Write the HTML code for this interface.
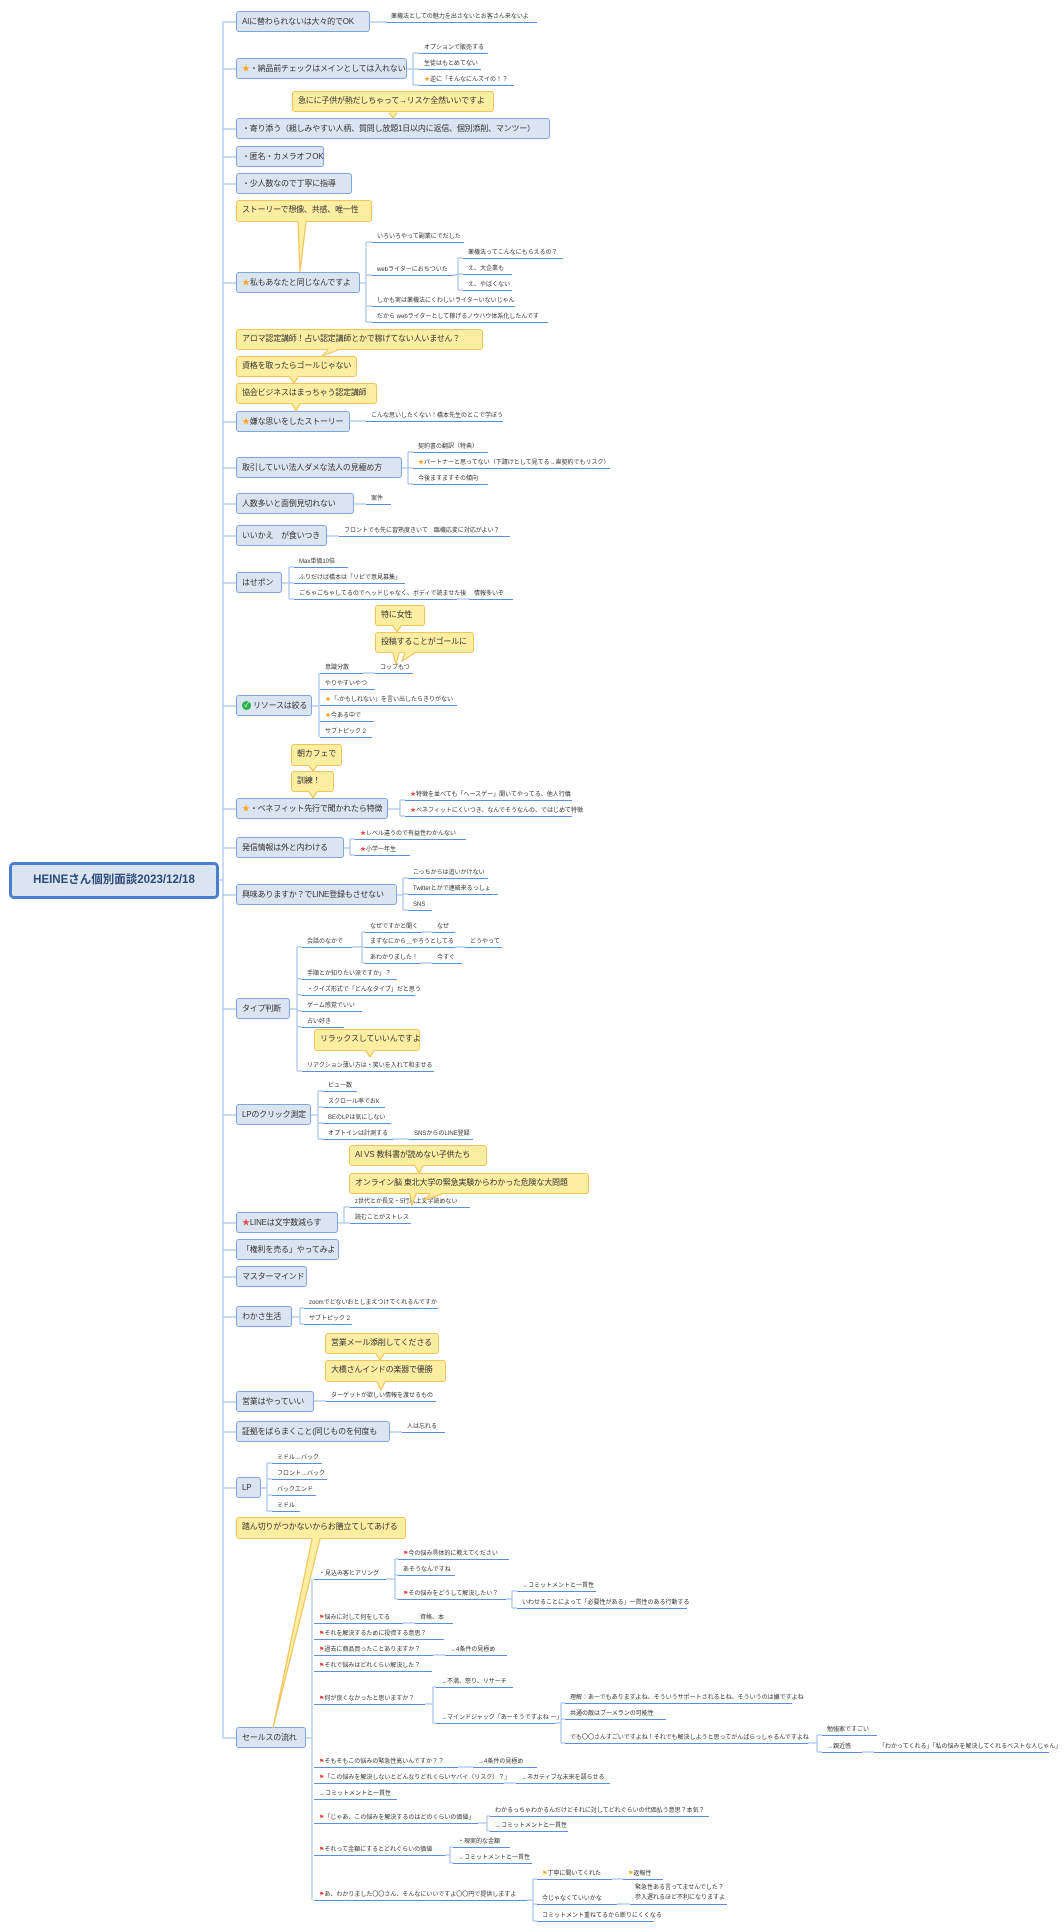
<!DOCTYPE html>
<html><head><meta charset="utf-8">
<style>
body{margin:0;width:1064px;height:1929px;background:#fff;position:relative;overflow:hidden;font-family:"Liberation Sans","Noto Sans CJK JP",sans-serif;color:#333}
.m{position:absolute;left:236px;height:21px;line-height:19px;background:#dbe5f1;border:1.5px solid #7ea6de;border-radius:3px;font-size:8px;padding:0 5px;box-sizing:border-box;white-space:nowrap;z-index:1;letter-spacing:-0.2px}
.c{position:absolute;height:21px;line-height:18px;background:#fdeea2;border:1.5px solid #f2c45a;border-radius:3px;font-size:8px;padding:0 5px;box-sizing:border-box;white-space:nowrap;z-index:1;letter-spacing:-0.2px}
.l{position:absolute;height:10px;line-height:10px;font-size:6px;border-bottom:1.5px solid #5a8fdc;padding-left:5px;white-space:nowrap;overflow:visible;z-index:1}
.s{color:#f5a623}.r{color:#e84a4a}.f{color:#e04040;font-family:"DejaVu Sans",sans-serif}.fy{color:#f5b000;font-family:"DejaVu Sans",sans-serif}
.g{display:inline-block;width:9px;height:9px;border-radius:50%;background:#2bb24c;color:#fff;font-size:7px;line-height:9px;text-align:center;vertical-align:middle;margin-right:2px}
svg{position:absolute;left:0;top:0}
</style></head><body>
<svg width="1064" height="1929" style="z-index:0"><g fill="none" stroke="#a9c4ea" stroke-width="1.2">
<path d="M223 22V1738 M219 880H223 M223 22H236 M223 69H236 M223 129H236 M223 157H236 M223 184H236 M223 283H236 M223 422H236 M223 468H236 M223 504H236 M223 536H236 M223 583H236 M223 706H236 M223 809H236 M223 848H236 M223 895H236 M223 1009H236 M223 1115H236 M223 1223H236 M223 1250H236 M223 1277H236 M223 1317H236 M223 1402H236 M223 1432H236 M223 1488H236 M223 1738H236"/>
<path d="M370 22H386 M407 69H413 M413 53V85 M413 53H419 M413 69H419 M413 85H419
M360 283H366 M366 242V322 M366 242H372 M366 275H372 M366 306H372 M366 322H372 M453 275H458 M458 258V290 M458 258H463 M458 274H463 M458 290H463
M350 421H366 M402 468H408 M408 452V484 M408 452H413 M408 468H413 M408 484H413 M354 504H366 M327 536H339
M282 583H289 M289 567V599 M289 567H294 M289 583H294 M289 599H294 M457 599H469
M312 706H319 M319 673V737 M363 673H375
M388 809H400 M400 800V816 M400 800H405 M400 816H405
M344 848H350 M350 839V855 M350 839H355 M350 855H355
M397 895H403 M403 878V910 M403 878H408 M403 894H408 M403 910H408
M290 1009H297 M297 947V1071 M297 947H302 M297 979H302 M297 995H302 M297 1011H302 M297 1027H302 M297 1071H302
M352 947H362 M362 932V963 M362 932H365 M362 947H365 M362 963H365 M422 932H432 M455 947H465 M420 963H432
M311 1115H318 M318 1091V1139 M318 1091H323 M318 1107H323 M318 1123H323 M318 1139H323 M393 1139H409
M338 1223H344 M344 1207V1223 M344 1207H350 M344 1223H350
M292 1317H300 M300 1308V1324 M300 1308H304 M300 1324H304
M314 1401H326 M390 1432H402
M261 1488H267 M267 1463V1511 M267 1463H272 M267 1479H272 M267 1495H272 M267 1511H272
M306 1738H312 M312 1579V1900
M386 1579H395 M395 1559V1599 M395 1559H398 M395 1575H398 M395 1599H398 M506 1599H512 M512 1591V1608 M512 1591H517 M512 1608H517
M403 1623H415 M433 1655H445
M425 1704H433 M433 1687V1723 M433 1687H436 M433 1723H436 M555 1723H561 M561 1703V1743 M561 1703H565 M561 1719H565 M561 1743H565 M808 1743H817 M817 1735V1752 M817 1735H822 M817 1752H822 M862 1752H874
M458 1767H473 M504 1783H516
M478 1823H487 M487 1816V1831 M487 1816H490 M487 1831H490
M445 1855H450 M450 1847V1863 M450 1847H453 M450 1863H453
M527 1900H533 M533 1879V1921 M533 1879H537 M533 1904H537 M533 1921H537 M612 1879H623 M617 1904H630"/>
</g></svg>

<div style="position:absolute;left:9px;top:862px;width:210px;height:37px;box-sizing:border-box;border:3px solid #4a7fcf;border-radius:5px;background:#dbe5f1;font-size:11.5px;font-weight:bold;line-height:31px;text-align:center;color:#2b4a7a;z-index:1">HEINEさん個別面談2023/12/18</div>

<div class="m" style="top:11px;width:134px">AIに替わられないは大々的でOK</div>
<div class="m" style="top:58px;width:171px"><span class="s">★</span>・納品前チェックはメインとしては入れない</div>
<div class="m" style="top:118px;width:314px">・寄り添う（親しみやすい人柄、質問し放題1日以内に返信、個別添削、マンツー）</div>
<div class="m" style="top:146px;width:88px">・匿名・カメラオフOK</div>
<div class="m" style="top:173px;width:116px">・少人数なので丁寧に指導</div>
<div class="m" style="top:272px;width:124px"><span class="s">★</span>私もあなたと同じなんですよ</div>
<div class="m" style="top:411px;width:114px"><span class="s">★</span>嫌な思いをしたストーリー</div>
<div class="m" style="top:457px;width:166px">取引していい法人ダメな法人の見極め方</div>
<div class="m" style="top:493px;width:118px">人数多いと面倒見切れない</div>
<div class="m" style="top:525px;width:91px">いいかえ　が食いつき</div>
<div class="m" style="top:572px;width:46px">はせポン</div>
<div class="m" style="top:695px;width:76px"><span class="g">✓</span>リソースは絞る</div>
<div class="m" style="top:798px;width:152px"><span class="s">★</span>・ベネフィット先行で聞かれたら特徴</div>
<div class="m" style="top:837px;width:108px">発信情報は外と内わける</div>
<div class="m" style="top:884px;width:161px">興味ありますか？でLINE登録もさせない</div>
<div class="m" style="top:998px;width:54px">タイプ判断</div>
<div class="m" style="top:1104px;width:75px">LPのクリック測定</div>
<div class="m" style="top:1212px;width:102px"><span class="r">★</span>LINEは文字数減らす</div>
<div class="m" style="top:1239px;width:103px">「権利を売る」やってみよ</div>
<div class="m" style="top:1266px;width:71px">マスターマインド</div>
<div class="m" style="top:1306px;width:56px">わかさ生活</div>
<div class="m" style="top:1391px;width:78px">営業はやっていい</div>
<div class="m" style="top:1421px;width:154px">証拠をばらまくこと(同じものを何度も</div>
<div class="m" style="top:1477px;width:25px">LP</div>
<div class="m" style="top:1727px;width:70px">セールスの流れ</div>

<div class="c" style="left:292px;top:91px;width:202px">急にに子供が熱だしちゃって→リスケ全然いいですよ</div>
<div class="c" style="left:236px;top:200px;width:136px;height:22px">ストーリーで想像、共感、唯一性</div>
<div class="c" style="left:236px;top:329px;width:247px">アロマ認定講師！占い認定講師とかで稼げてない人いません？</div>
<div class="c" style="left:236px;top:356px;width:121px">資格を取ったらゴールじゃない</div>
<div class="c" style="left:236px;top:383px;width:141px">協会ビジネスはまっちゃう認定講師</div>
<div class="c" style="left:375px;top:605px;width:50px">特に女性</div>
<div class="c" style="left:375px;top:632px;width:99px">投稿することがゴールに</div>
<div class="c" style="left:291px;top:744px;width:51px;height:22px">朝カフェで</div>
<div class="c" style="left:291px;top:771px;width:43px">訓練！</div>
<div class="c" style="left:314px;top:1029px;width:106px;height:22px">リラックスしていいんですよ</div>
<div class="c" style="left:349px;top:1145px;width:138px">AI VS 教科書が読めない子供たち</div>
<div class="c" style="left:349px;top:1173px;width:240px">オンライン脳 東北大学の緊急実験からわかった危険な大問題</div>
<div class="c" style="left:325px;top:1333px;width:114px">営業メール添削してくださる</div>
<div class="c" style="left:325px;top:1360px;width:121px;height:22px">大橋さんインドの楽器で優勝</div>
<div class="c" style="left:236px;top:1517px;width:170px;height:22px">踏ん切りがつかないからお膳立てしてあげる</div>

<svg width="1064" height="1929" style="z-index:2"><g fill="#fdeea2" stroke="none">
<polygon points="389,112 397,112 393,118"/><polygon points="298,221 306,221 300,272"/><polygon points="328,349 338,349 322,356"/><polygon points="290,376 298,376 294,383"/><polygon points="292,403 300,403 296,411"/><polygon points="393,625 401,625 397,632"/><polygon points="393,652 399,652 396,664"/><polygon points="405,652 415,652 402,661"/><polygon points="309,765 317,765 313,771"/><polygon points="309,791 317,791 313,798"/><polygon points="366,1050 374,1050 370,1057"/><polygon points="415,1165 423,1165 419,1173"/><polygon points="410,1193 416,1193 412,1205"/><polygon points="430,1193 442,1193 424,1200"/><polygon points="376,1353 384,1353 380,1360"/><polygon points="377,1381 385,1381 381,1390"/><polygon points="312,1538 320,1538 273,1728"/>
</g><g fill="none" stroke="#f2c45a" stroke-width="1.2">
<path d="M389 113L393 118L397 113 M298 222L300 272L306 222 M328 350L322 356L338 350 M290 377L294 383L298 377 M292 404L296 411L300 404 M393 626L397 632L401 626 M393 653L396 664L399 653 M405 653L402 661L415 653 M309 766L313 771L317 766 M309 792L313 798L317 792 M366 1051L370 1057L374 1051 M415 1166L419 1173L423 1166 M410 1194L412 1205L416 1194 M430 1194L424 1200L442 1194 M376 1354L380 1360L384 1354 M377 1382L381 1390L385 1382 M312 1539L273 1728L320 1539"/>
</g></svg>

<div class="l" style="left:386px;top:12px;width:146px">薬機法としての魅力を出さないとお客さん来ないよ</div>
<div class="l" style="left:419px;top:43px;width:64px">オプションで販売する</div>
<div class="l" style="left:419px;top:59px;width:57px">生徒はもとめてない</div>
<div class="l" style="left:419px;top:75px;width:90px"><span class="s">★</span>逆に「そんなにんズイの！？</div>
<div class="l" style="left:372px;top:232px;width:87px">いろいろやって副業にでだした</div>
<div class="l" style="left:372px;top:265px;width:76px">webライターにおちついた</div>
<div class="l" style="left:372px;top:296px;width:138px">しかも実は薬機法にくわしいライターいないじゃん</div>
<div class="l" style="left:372px;top:312px;width:171px">だから webライターとして稼げるノウハウ体系化したんです</div>
<div class="l" style="left:463px;top:248px;width:95px">薬機法ってこんなにもらえるの？</div>
<div class="l" style="left:463px;top:264px;width:44px">え、大企業も</div>
<div class="l" style="left:463px;top:280px;width:44px">え、やばくない</div>
<div class="l" style="left:366px;top:411px;width:132px">こんな思いしたくない！橋本先生のとこで学ぼう</div>
<div class="l" style="left:413px;top:442px;width:70px">契約書の翻訳（特典）</div>
<div class="l" style="left:413px;top:458px;width:192px"><span class="s">★</span>パートナーと思ってない（下請けとして見てる→直契約でもリスク）</div>
<div class="l" style="left:413px;top:474px;width:70px">今後ますますその傾向</div>
<div class="l" style="left:366px;top:494px;width:20px">案件</div>
<div class="l" style="left:339px;top:526px;width:166px">フロントでも先に習熟度きいて　臨機応変に対応がよい？</div>
<div class="l" style="left:294px;top:557px;width:49px">Max単価10倍</div>
<div class="l" style="left:294px;top:573px;width:106px">ふりだけば橋本は「リピで意見募集」</div>
<div class="l" style="left:294px;top:589px;width:158px">ごちゃごちゃしてるのでヘッドじゃなく、ボディで読ませた後</div>
<div class="l" style="left:469px;top:589px;width:39px">情報多いぞ</div>
<div class="l" style="left:320px;top:663px;width:38px">意識分散</div>
<div class="l" style="left:375px;top:663px;width:33px">コップもつ</div>
<div class="l" style="left:320px;top:679px;width:50px">やりやすいやつ</div>
<div class="l" style="left:320px;top:695px;width:132px"><span class="s">★</span>「-かもしれない」を言い出したらきりがない</div>
<div class="l" style="left:320px;top:711px;width:49px"><span class="s">★</span>今ある中で</div>
<div class="l" style="left:320px;top:727px;width:47px">サブトピック 2</div>
<div class="l" style="left:405px;top:790px;width:162px"><span class="r">★</span>特徴を並べても「へースゲー」聞いてやってる、他人行儀</div>
<div class="l" style="left:405px;top:806px;width:162px"><span class="r">★</span>ベネフィットにくいつき、なんでそうなんの、ではじめて特徴</div>
<div class="l" style="left:355px;top:829px;width:106px"><span class="r">★</span>レベル違うので有益性わかんない</div>
<div class="l" style="left:355px;top:845px;width:50px"><span class="r">★</span>小学一年生</div>
<div class="l" style="left:408px;top:868px;width:75px">こっちからは追いかけない</div>
<div class="l" style="left:408px;top:884px;width:85px">Twitterとかで連絡来るっしょ</div>
<div class="l" style="left:408px;top:900px;width:19px">SNS</div>
<div class="l" style="left:302px;top:937px;width:45px">会話のなかで</div>
<div class="l" style="left:302px;top:969px;width:90px">手順とか知りたい派ですか」？</div>
<div class="l" style="left:302px;top:985px;width:108px">・クイズ形式で「どんなタイプ」だと思う</div>
<div class="l" style="left:302px;top:1001px;width:55px">ゲーム感覚でいい</div>
<div class="l" style="left:302px;top:1017px;width:37px">占い好き</div>
<div class="l" style="left:302px;top:1061px;width:127px">リアクション薄い方は・笑いを入れて和ませる</div>
<div class="l" style="left:365px;top:922px;width:52px">なぜですかと聞く</div>
<div class="l" style="left:432px;top:922px;width:18px">なぜ</div>
<div class="l" style="left:365px;top:937px;width:85px">まずなにから＿やろうとしてる</div>
<div class="l" style="left:465px;top:937px;width:32px">どうやって</div>
<div class="l" style="left:365px;top:953px;width:50px">あわかりました！</div>
<div class="l" style="left:432px;top:953px;width:25px">今すぐ</div>
<div class="l" style="left:323px;top:1081px;width:29px">ビュー数</div>
<div class="l" style="left:323px;top:1097px;width:57px">スクロール率でおk</div>
<div class="l" style="left:323px;top:1113px;width:63px">BEのLPは気にしない</div>
<div class="l" style="left:323px;top:1129px;width:65px">オプトインは計測する</div>
<div class="l" style="left:409px;top:1129px;width:59px">SNSからのLINE登録</div>
<div class="l" style="left:350px;top:1197px;width:115px">z世代とか長文・5行以上文字読めない</div>
<div class="l" style="left:350px;top:1213px;width:56px">読むことがストレス</div>
<div class="l" style="left:304px;top:1298px;width:129px">zoomでどないおとしまえつけてくれるんですか</div>
<div class="l" style="left:304px;top:1314px;width:43px">サブトピック 2</div>
<div class="l" style="left:326px;top:1391px;width:105px">ターゲットが欲しい情報を渡せるもの</div>
<div class="l" style="left:402px;top:1422px;width:38px">人は忘れる</div>
<div class="l" style="left:272px;top:1453px;width:45px">ミドル→バック</div>
<div class="l" style="left:272px;top:1469px;width:50px">フロント→バック</div>
<div class="l" style="left:272px;top:1485px;width:39px">バックエンド</div>
<div class="l" style="left:272px;top:1501px;width:23px">ミドル</div>

<div class="l" style="left:314px;top:1569px;width:67px">・見込み客ヒアリング</div>
<div class="l" style="left:398px;top:1549px;width:106px"><span class="f">⚑</span>今の悩み具体的に教えてください</div>
<div class="l" style="left:398px;top:1565px;width:52px">あそうなんですね</div>
<div class="l" style="left:398px;top:1589px;width:103px"><span class="f">⚑</span>その悩みをどうして解決したい？</div>
<div class="l" style="left:517px;top:1581px;width:74px">→コミットメントと一貫性</div>
<div class="l" style="left:517px;top:1598px;width:165px">いわせることによって「必要性がある」一貫性のある行動する</div>
<div class="l" style="left:314px;top:1613px;width:84px"><span class="f">⚑</span>悩みに対して何をしてる</div>
<div class="l" style="left:415px;top:1613px;width:33px">資格、本</div>
<div class="l" style="left:314px;top:1629px;width:125px"><span class="f">⚑</span>それを解決するために投資する意思？</div>
<div class="l" style="left:314px;top:1645px;width:114px"><span class="f">⚑</span>過去に商品買ったことありますか？</div>
<div class="l" style="left:445px;top:1645px;width:57px">→4条件の見極め</div>
<div class="l" style="left:314px;top:1661px;width:113px"><span class="f">⚑</span>それで悩みはどれくらい解決した？</div>
<div class="l" style="left:314px;top:1694px;width:106px"><span class="f">⚑</span>何が良くなかったと思いますか？</div>
<div class="l" style="left:436px;top:1677px;width:72px">→不満、怒り、リサーチ</div>
<div class="l" style="left:436px;top:1713px;width:114px">→マインドジャック「あーそうですよね ー」</div>
<div class="l" style="left:565px;top:1693px;width:222px">理解：あーでもありますよね、そういうサポートされるとね、そういうのは嫌ですよね</div>
<div class="l" style="left:565px;top:1709px;width:96px">共通の敵はブーメランの可能性</div>
<div class="l" style="left:565px;top:1733px;width:238px">でも〇〇さんすごいですよね！それでも解決しようと思ってがんばらっしゃるんですよね</div>
<div class="l" style="left:822px;top:1725px;width:50px">勉強家ですごい</div>
<div class="l" style="left:822px;top:1742px;width:35px">→親近感</div>
<div class="l" style="left:874px;top:1742px;width:170px">「わかってくれる」「私の悩みを解決してくれるベストな人じゃん」</div>
<div class="l" style="left:314px;top:1757px;width:139px"><span class="f">⚑</span>そもそもこの悩みの緊急性高いんですか？？</div>
<div class="l" style="left:473px;top:1757px;width:59px">→4条件の見極め</div>
<div class="l" style="left:314px;top:1773px;width:185px"><span class="f">⚑</span>「この悩みを解決しないとどんなりどれくらいヤバイ（リスク）？」</div>
<div class="l" style="left:516px;top:1773px;width:89px">→ネガティブな未来を語らせる</div>
<div class="l" style="left:314px;top:1789px;width:78px">→コミットメントと一貫性</div>
<div class="l" style="left:314px;top:1813px;width:159px"><span class="f">⚑</span>「じゃあ、この悩みを解決するのはどのくらいの価値」</div>
<div class="l" style="left:490px;top:1806px;width:214px">わかるっちゃわかるんだけどそれに対してどれぐらいの代価払う意思？本気？</div>
<div class="l" style="left:490px;top:1821px;width:73px">→コミットメントと一貫性</div>
<div class="l" style="left:314px;top:1845px;width:126px"><span class="f">⚑</span>それって金額にするとどれぐらいの価値</div>
<div class="l" style="left:453px;top:1837px;width:52px">・現実的な金額</div>
<div class="l" style="left:453px;top:1853px;width:74px">→コミットメントと一貫性</div>
<div class="l" style="left:314px;top:1890px;width:208px"><span class="f">⚑</span>あ、わかりました〇〇さん、そんなにいいですよ〇〇円で提供しますよ</div>
<div class="l" style="left:537px;top:1869px;width:70px"><span class="fy">⚑</span>丁寧に聞いてくれた</div>
<div class="l" style="left:623px;top:1869px;width:35px"><span class="fy">⚑</span>返報性</div>
<div class="l" style="left:537px;top:1894px;width:75px">今じゃなくていいかな</div>
<div class="l" style="left:630px;top:1883px;width:92px;height:21px;line-height:10px">緊急性ある言ってませんでした？<br>参入遅れるほど不利になりますよ</div>
<div class="l" style="left:537px;top:1911px;width:112px">コミットメント重ねてるから断りにくくなる</div>
</body></html>
